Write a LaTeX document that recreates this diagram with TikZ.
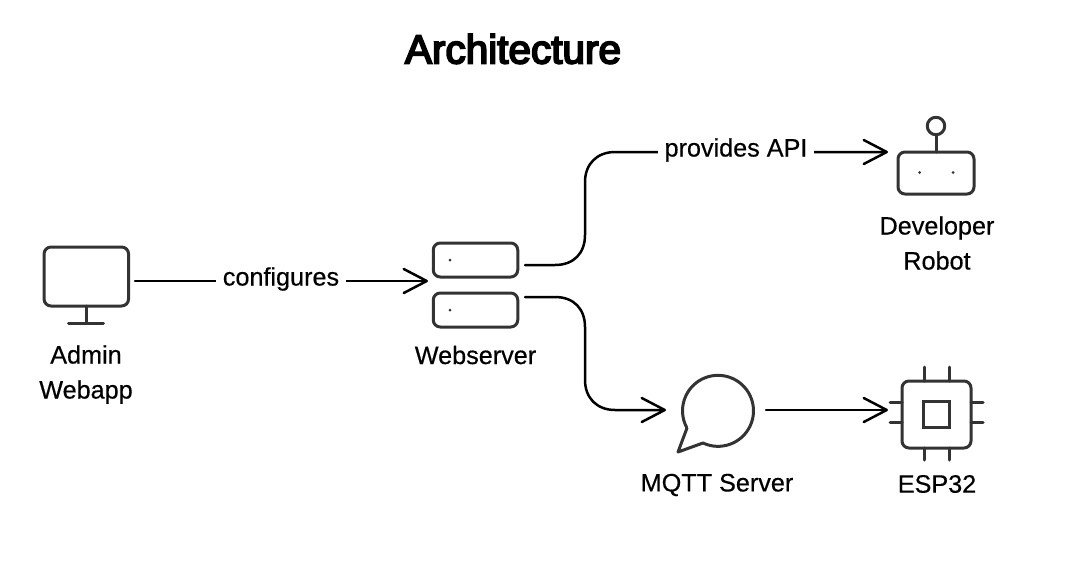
\documentclass[tikz,border=0pt]{standalone}
\usepackage{fontspec}
\setmainfont{Liberation Sans}
\newfontfamily\lblfont[FakeBold=0.45]{Liberation Sans}
\newfontfamily\ttlfont[FakeBold=4.5]{Liberation Sans}
\usetikzlibrary{arrows.meta,positioning}
\definecolor{icon}{HTML}{333333}
\tikzset{
  x=1pt,y=-1pt,
  iconline/.style={draw=icon,line width=3pt,line cap=round,line join=round},
  iconbox/.style={iconline,rounded corners=7pt,inner sep=0pt,outer sep=0pt},
  conn/.style={draw=black,line width=2.5pt,line cap=round,rounded corners=0pt},
  arrowed/.style={conn,-{Straight Barb[length=23pt,width=24pt,line width=2.5pt,round]}},
  lbl/.style={font=\lblfont\fontsize{25.2}{29}\selectfont,align=center,text=black,inner sep=0pt},
  edgelbl/.style={lbl,fill=white,inner xsep=7pt,inner ysep=3pt},
  dot/.style={circle,fill=icon,minimum size=3pt,inner sep=0pt},
}
\begin{document}
\begin{tikzpicture}
\useasboundingbox (0,0) rectangle (1066,579);
\fill[white] (0,0) rectangle (1066,579);
\node[font=\ttlfont\fontsize{40.5}{44}\selectfont] (title) at (513,49) {Architecture};
% monitor
\node[iconbox,minimum width=84.5pt,minimum height=59pt] (mon) at (86.3,276.5) {};
\coordinate (monfoot) at (86.3,323);
\coordinate (footl) at (68.5,323);
\coordinate (footr) at (103.5,323);
\draw[iconline] (mon.south) -- (monfoot);
\draw[iconline] (footl) -- (footr);
\node[lbl] (monl) at (86,374.5) {Admin\\[6pt]Webapp};
% servers
\node[iconbox,minimum width=84.5pt,minimum height=34pt] (web1) at (475.5,260) {};
\node[iconbox,minimum width=84.5pt,minimum height=34pt] (web2) at (475.5,310) {};
\node[dot] (d1) at (450,260) {};
\node[dot] (d2) at (450,310) {};
\node[lbl] (webl) at (475.5,355) {Webserver};
% robot
\node[iconbox,minimum width=76pt,minimum height=42pt] (rob) at (936,173) {};
\node[iconline,circle,minimum size=17.5pt,inner sep=0pt,outer sep=0pt] (ant) at (936,126) {};
\draw[iconline] (ant.south) -- (rob.north);
\node[dot] (r1) at (919.5,172.5) {};
\node[dot] (r2) at (953,172.5) {};
\node[lbl] (robl) at (937,243) {Developer\\[6pt]Robot};
% bubble
\coordinate (tail1) at (687,428);
\coordinate (tip) at (678,452);
\coordinate (tail2) at (703,443);
\coordinate (bub) at (718,411.5);
\draw[iconline] (tail1) -- (tip) -- (tail2) arc[start angle=115,end angle=-208,radius=35.5];
\node[inner sep=0pt,minimum size=71pt,circle] (mq) at (bub) {};
\node[lbl] (mql) at (717,485) {MQTT Server};
% chip
\node[iconbox,minimum width=69pt,minimum height=67pt] (chip) at (936.5,414.5) {};
\node[draw=icon,line width=3pt,minimum size=26pt,inner sep=0pt,outer sep=0pt] (core) at (936,414) {};
\foreach \x in {924,949}{
  \draw[iconline] (\x,367) -- (\x,381);
  \draw[iconline] (\x,448) -- (\x,460);
}
\foreach \y in {402,422}{
  \draw[iconline] (890,\y) -- (902,\y);
  \draw[iconline] (971,\y) -- (983,\y);
}
\node[lbl] (chipl) at (937,484) {ESP32};
% connectors
\coordinate (a1) at (135,281);
\coordinate (a2) at (428,281);
\draw[arrowed] (a1) -- (a2);
\node[edgelbl] (cfg) at (281,279) {configures};
\coordinate (b1) at (525,265);
\coordinate (b2) at (888,152);
\draw[arrowed] (b1) -- (555,265) .. controls (574,265) and (585,253) .. (585,235)
  -- (585,182) .. controls (585,164) and (597,152) .. (615,152) -- (b2);
\node[edgelbl] (api) at (736,150) {provides API};
\coordinate (c1) at (525,297);
\coordinate (c2) at (666,410);
\draw[arrowed] (c1) -- (555,297) .. controls (574,297) and (585,309) .. (585,327)
  -- (585,380) .. controls (585,398) and (597,410) .. (615,410) -- (c2);
\coordinate (e1) at (766,410);
\coordinate (e2) at (888,410);
\draw[arrowed] (e1) -- (e2);
\end{tikzpicture}
\end{document}
